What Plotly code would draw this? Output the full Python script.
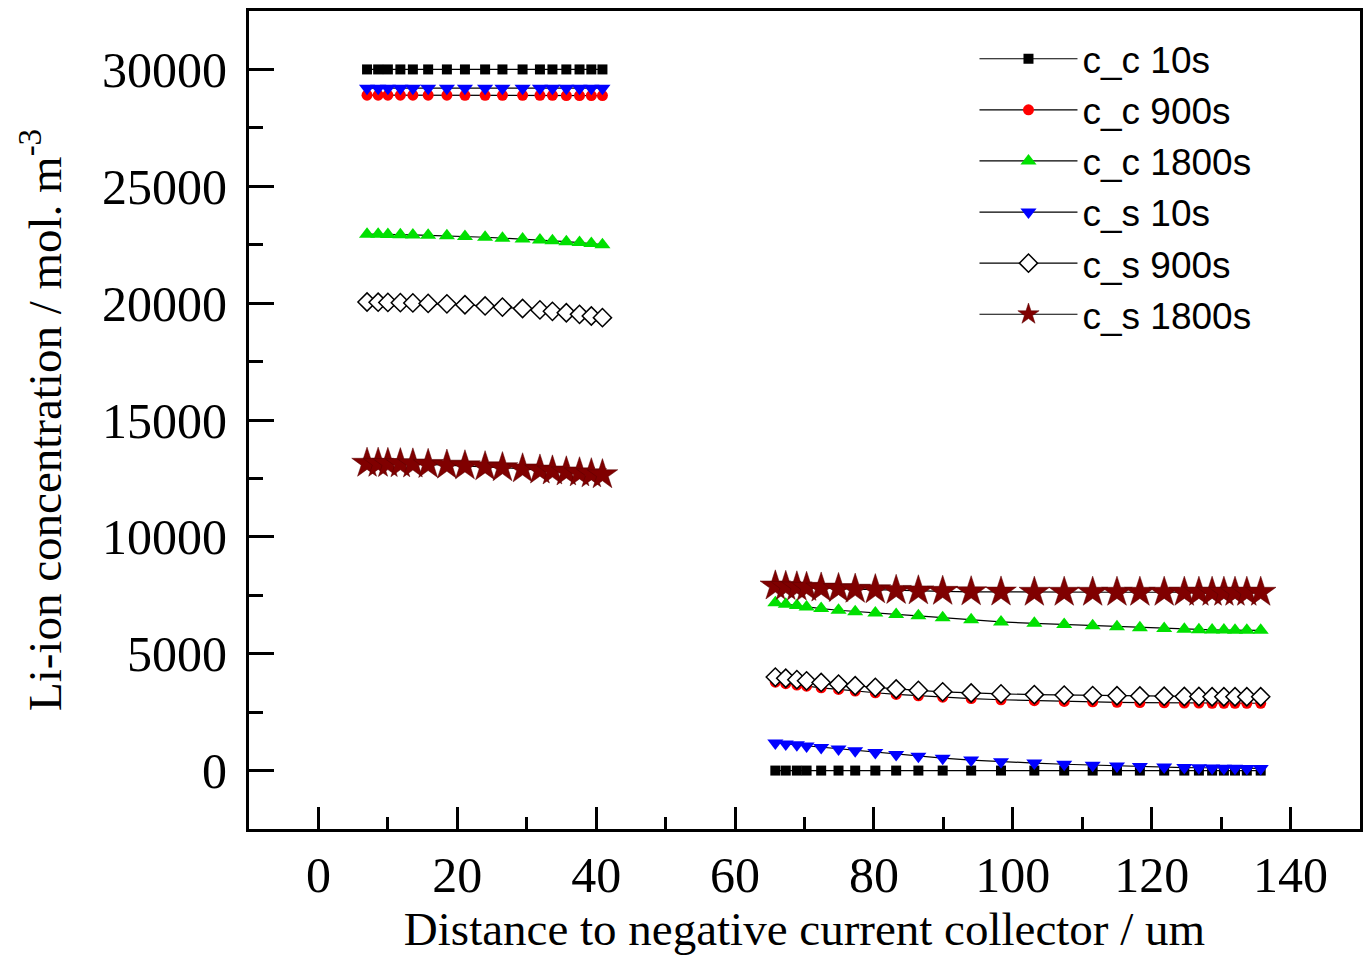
import plotly.graph_objects as go

# x positions (um)
x_left = [7.0, 8.6, 10.0, 11.8, 13.6, 15.8, 18.5, 21.1, 24.0, 26.5, 29.4, 31.9, 33.7, 35.7, 37.6, 39.3, 40.9]
x_right = [65.8, 67.3, 68.9, 70.3, 72.4, 74.9, 77.3, 80.2, 83.2, 86.4, 89.9, 94.0, 98.3, 103.1,
           107.4, 111.5, 115.0, 118.3, 121.8, 124.7, 126.8, 128.7, 130.4, 132.0, 133.7, 135.7]

# left region values (mol m^-3)
cc10_L = [30000, 30000, 30000, 30000, 30000, 30000, 30000, 30000, 30000, 30000, 30000, 30000, 30000, 30000, 30000, 30000, 30000]
cc900_L = [28900, 28900, 28900, 28900, 28900, 28900, 28900, 28890, 28890, 28890, 28890, 28890, 28890, 28880, 28880, 28880, 28880]
cc1800_L = [22950, 22950, 22940, 22930, 22920, 22900, 22880, 22850, 22820, 22780, 22740, 22700, 22670, 22630, 22590, 22550, 22500]
cs10_L = [29200, 29200, 29200, 29200, 29200, 29200, 29200, 29200, 29200, 29200, 29200, 29200, 29200, 29200, 29200, 29200, 29200]
cs900_L = [20050, 20040, 20030, 20020, 20010, 19990, 19970, 19930, 19880, 19830, 19770, 19710, 19650, 19590, 19520, 19450, 19380]
cs1800_L = [13150, 13150, 13140, 13130, 13120, 13100, 13070, 13040, 13000, 12960, 12910, 12860, 12820, 12780, 12740, 12700, 12660]

# right region values
cc10_R = [0, 0, 0, 0, 0, 0, 0, 0, 0, 0, 0, 0, 0, 0, 0, 0, 0, 0, 0, 0, 0, 0, 0, 0, 0, 0]
cc900_R = [3780, 3720, 3660, 3610, 3540, 3470, 3400, 3330, 3260, 3200, 3140, 3080, 3030, 2990,
           2960, 2940, 2920, 2910, 2900, 2890, 2890, 2880, 2880, 2880, 2880, 2880]
cc1800_R = [7180, 7120, 7060, 7000, 6930, 6860, 6800, 6740, 6680, 6620, 6540, 6450, 6360, 6300,
            6250, 6200, 6150, 6110, 6080, 6050, 6030, 6020, 6010, 6000, 6000, 6000]
cs10_R = [1180, 1140, 1100, 1050, 990, 920, 850, 770, 690, 610, 530, 450, 380, 320,
          270, 230, 200, 170, 150, 130, 120, 110, 100, 100, 90, 90]
cs900_R = [4000, 3950, 3890, 3840, 3770, 3700, 3630, 3560, 3490, 3430, 3370, 3320, 3280, 3250,
           3230, 3210, 3200, 3190, 3180, 3170, 3170, 3160, 3160, 3160, 3160, 3160]
cs1800_R = [7900, 7880, 7860, 7840, 7810, 7790, 7760, 7740, 7710, 7690, 7670, 7650, 7640, 7630,
            7630, 7630, 7630, 7630, 7630, 7630, 7630, 7630, 7630, 7630, 7630, 7630]

names = ["c_c 10s", "c_c 900s", "c_c 1800s", "c_s 10s", "c_s 900s", "c_s 1800s"]
lefts = [cc10_L, cc900_L, cc1800_L, cs10_L, cs900_L, cs1800_L]
rights = [cc10_R, cc900_R, cc1800_R, cs10_R, cs900_R, cs1800_R]

markers = [
    dict(symbol="square", size=10, color="#000000"),
    dict(symbol="circle", size=11, color="#FF0000"),
    dict(symbol="triangle-up", size=14, color="#00E000"),
    dict(symbol="triangle-down", size=14, color="#0000FF"),
    dict(symbol="diamond", size=14, color="#FFFFFF", line=dict(color="#000000", width=1.5)),
    dict(symbol="star", size=23, color="#800000", line=dict(color="#5a0000", width=0.5)),
]

fig = go.Figure()
for name, yl, yr, mk in zip(names, lefts, rights, markers):
    xs = x_left + [None] + x_right
    ys = yl + [None] + yr
    fig.add_trace(go.Scatter(
        x=xs, y=ys, name=name, mode="lines+markers",
        line=dict(color="#000000", width=1.2),
        marker=mk, connectgaps=False,
    ))

serif = "Liberation Serif, Times New Roman, serif"
sans = "Liberation Sans, Arial, sans-serif"

fig.update_layout(
    width=1368, height=958,
    margin=dict(l=249, r=5, t=11, b=129),
    paper_bgcolor="white", plot_bgcolor="white",
    showlegend=True,
    legend=dict(
        x=0.653, y=0.979, xanchor="left", yanchor="top",
        font=dict(family=sans, size=37, color="#000000"),
        bgcolor="rgba(0,0,0,0)", itemwidth=98, tracegroupgap=0,
    ),
)

fig.update_xaxes(
    range=[-10, 150], tick0=0, dtick=20,
    ticks="inside", ticklen=22, tickwidth=3, tickcolor="#000000",
    minor=dict(ticks="inside", ticklen=12, tickwidth=3, dtick=10, tick0=0, tickcolor="#000000"),
    showline=True, linewidth=3, linecolor="#000000", mirror=True,
    showgrid=False, zeroline=False,
    tickfont=dict(family=serif, size=50, color="#000000"),
    tickformat="d",
    ticklabelstandoff=0,
    title=dict(text="Distance to negative current collector / um",
               font=dict(family=serif, size=47, color="#000000"), standoff=4),
)
fig.update_yaxes(
    range=[-2500, 32500], tick0=0, dtick=5000,
    ticks="inside", ticklen=25, tickwidth=3, tickcolor="#000000",
    minor=dict(ticks="inside", ticklen=14, tickwidth=3, dtick=2500, tick0=0, tickcolor="#000000"),
    showline=True, linewidth=3, linecolor="#000000", mirror=True,
    showgrid=False, zeroline=False,
    tickfont=dict(family=serif, size=50, color="#000000"),
    tickformat="d",
    ticklabelstandoff=9,
    title=dict(text="Li-ion concentration / mol. m<sup>-3</sup>",
               font=dict(family=serif, size=47, color="#000000"), standoff=26),
)

fig.write_html("out.html", config={"displayModeBar": False},
               post_script="document.body.style.margin='0px';")
